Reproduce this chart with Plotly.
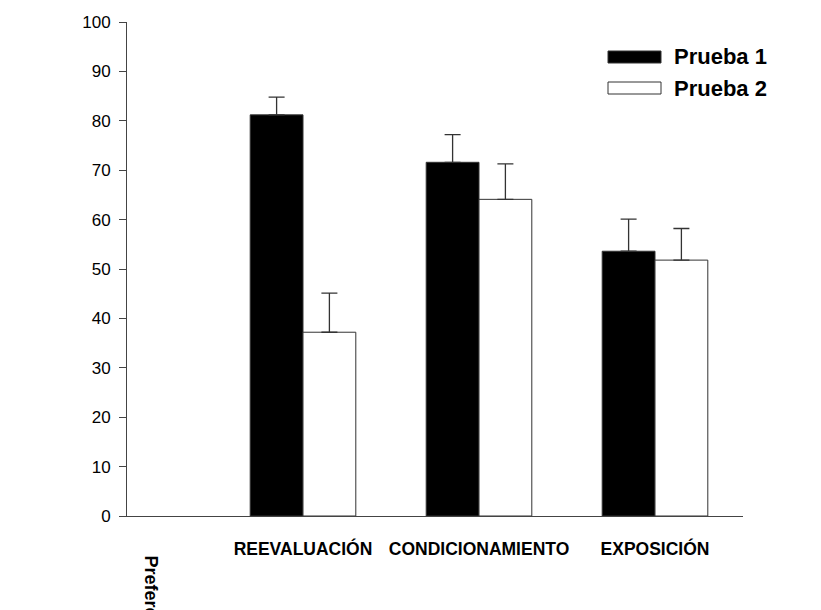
import plotly.graph_objects as go

categories = ["REEVALUACIÓN", "CONDICIONAMIENTO", "EXPOSICIÓN"]
series_names = ["Prueba 1", "Prueba 2"]
prueba1 = [81.2, 71.6, 53.6]
prueba1_err = [3.6, 5.6, 6.5]
prueba2 = [37.2, 64.1, 51.8]
prueba2_err = [7.9, 7.2, 6.4]
y_ticks = [0, 10, 20, 30, 40, 50, 60, 70, 80, 90, 100]

xpos = list(range(len(categories)))
font = "Liberation Sans, Arial, sans-serif"

fig = go.Figure()
fig.add_trace(go.Bar(
    x=xpos, y=prueba1, name=series_names[0],
    marker=dict(color="black", line=dict(color="#333", width=1)),
    error_y=dict(type="data", array=prueba1_err, symmetric=False, arrayminus=[0]*3,
                 color="#333", thickness=1.3, width=8),
    showlegend=False,
))
fig.add_trace(go.Bar(
    x=xpos, y=prueba2, name=series_names[1],
    marker=dict(color="white", line=dict(color="#333", width=1)),
    error_y=dict(type="data", array=prueba2_err, symmetric=False, arrayminus=[0]*3,
                 color="#333", thickness=1.3, width=8),
    showlegend=False,
))

# page body has an 8px margin; plot area sits at x 127..743, y 22..516 on the page
fig.update_layout(
    width=813, height=602,
    margin=dict(l=119, r=78, t=14, b=94, autoexpand=False),
    plot_bgcolor="white", paper_bgcolor="white",
    barmode="group", bargap=0.4, bargroupgap=0,
    font=dict(family=font, color="black"),
    xaxis=dict(range=[-1, 2.5], tickvals=xpos, ticktext=[f"<b>{c}</b>" for c in categories],
               showgrid=False, zeroline=False, showline=True, linecolor="#444", linewidth=1,
               ticks="", tickfont=dict(size=17.5, family=font), ticklabelstandoff=17,
               automargin=False),
    yaxis=dict(range=[0, 100], tickvals=y_ticks, showgrid=False, zeroline=False,
               showline=True, linecolor="#444", linewidth=1, ticks="outside", ticklen=7,
               tickcolor="#444", tickfont=dict(size=17, family=font), ticklabelstandoff=5,
               automargin=False),
)

# legend drawn manually to match wide swatches
legend_items = [(series_names[0], "black"), (series_names[1], "white")]
for i, (name, col) in enumerate(legend_items):
    yc = 57 + i * 31
    fig.add_shape(type="rect", xref="paper", yref="paper",
                  x0=(608 - 127) / 616, x1=(661 - 127) / 616,
                  y0=(516 - (yc + 6)) / 494, y1=(516 - (yc - 6)) / 494,
                  fillcolor=col, line=dict(color="#333", width=1))
    fig.add_annotation(xref="paper", yref="paper", x=(672 - 127) / 616, y=(516 - yc) / 494,
                       text=f"<b>{name}</b>", showarrow=False, xanchor="left", yanchor="middle",
                       font=dict(size=22, family=font, color="black"))

fig.add_annotation(xref="paper", yref="paper", x=(151 - 127) / 616, y=(516 - 553) / 494,
                   text="<b>Preferencia normalizada</b>", textangle=90, showarrow=False,
                   xanchor="center", yanchor="top", font=dict(size=18, family=font, color="black"))

fig.write_html("out.html")
